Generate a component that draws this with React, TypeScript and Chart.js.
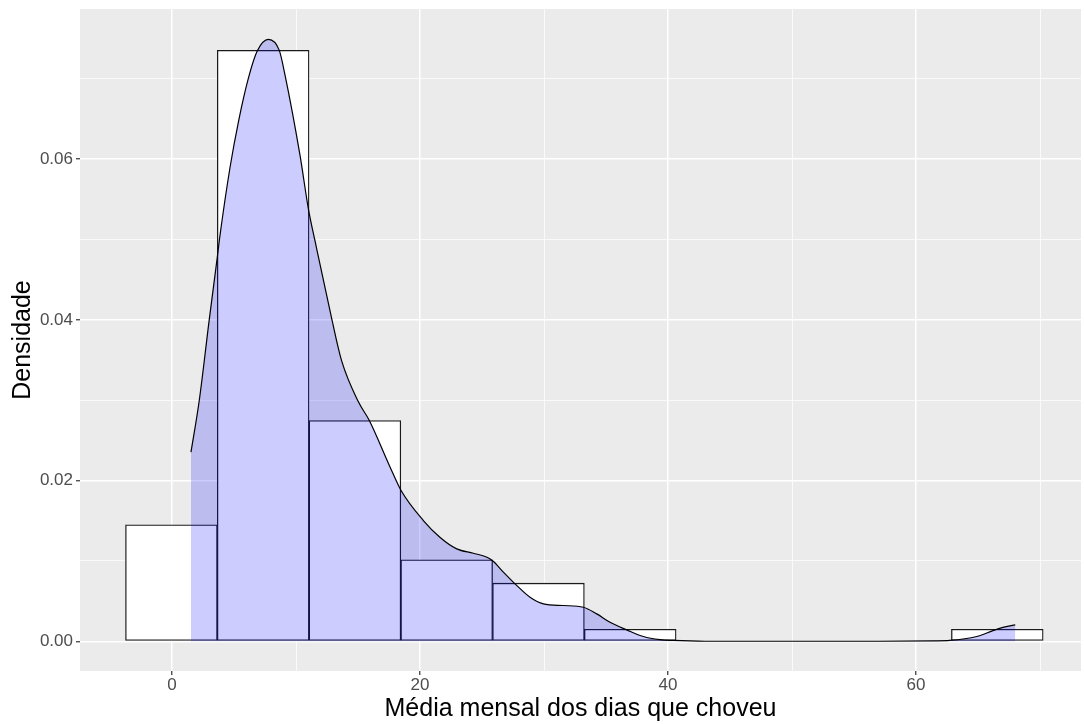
import React, { useEffect, useRef } from "react";
import { Chart, registerables } from "chart.js";

Chart.register(...registerables);

// Histogram (density scale) – bin midpoints and heights
const binMids = [-0.05, 7.35, 14.75, 22.15, 29.55, 36.95, 44.35, 51.75, 59.15, 66.55];
const binDensity = [0.0145, 0.07355, 0.02748, 0.01013, 0.00723, 0.0015, 0, 0, 0, 0.0015];

// Kernel density curve
const densX = [1.53, 2.2, 3.0, 3.65, 3.85, 4.68, 5.4, 6.16, 6.88, 7.77, 8.65, 9.11, 10.32, 11.0, 11.55, 12.9, 13.68, 15.03, 15.91, 17.58, 18.47, 20.27, 21.6, 22.96, 24.3, 25.4, 25.9, 26.72, 27.66, 28.87, 29.95, 31.56, 33.17, 34.25, 35.32, 36.67, 38.01, 39.35, 40.4, 43, 50, 57, 61.4, 62.7, 64.9, 66.2, 67.0, 68.0];
const densY = [0.02354, 0.03, 0.04, 0.0478, 0.0503, 0.059, 0.065, 0.0701, 0.0735, 0.07493, 0.07355, 0.0705, 0.0605, 0.0538, 0.0497, 0.04, 0.0349, 0.0298, 0.02748, 0.0217, 0.01877, 0.01503, 0.01295, 0.0115, 0.01096, 0.01046, 0.00996, 0.0086, 0.00715, 0.00548, 0.00466, 0.00445, 0.00424, 0.00341, 0.00237, 0.00142, 0.00059, 0.0002, 0.0001, 0, 0, 0, 0.00005, 0.0001, 0.00059, 0.00133, 0.00174, 0.00204];

// Axis ticks
const xMajorTicks = [0, 20, 40, 60];
const xMinorTicks = [10, 30, 50, 70];
const yMajorTicks = [0, 0.02, 0.04, 0.06];
const yMinorTicks = [0.01, 0.03, 0.05, 0.07];

const xTitle = "Média mensal dos dias que choveu";
const yTitle = "Densidade";

const FONT = "'Liberation Sans', Arial, Helvetica, sans-serif";

const panelBg = {
  id: "panelBg",
  beforeDraw(chart: any) {
    const { ctx, chartArea } = chart;
    ctx.save();
    ctx.fillStyle = "#EBEBEB";
    ctx.fillRect(chartArea.left, chartArea.top, chartArea.right - chartArea.left, chartArea.bottom - chartArea.top);
    ctx.restore();
  },
};

export default function App() {
  const ref = useRef<HTMLCanvasElement | null>(null);

  useEffect(() => {
    if (!ref.current) return;
    const isXMajor = (v: number) => xMajorTicks.includes(v);
    const isYMajor = (v: number) => yMajorTicks.includes(v);

    const chart = new Chart(ref.current, {
      type: "bar",
      data: {
        datasets: [
          {
            type: "line",
            order: 0,
            data: densX.map((x, i) => ({ x, y: densY[i] })),
            borderColor: "#000000",
            borderWidth: 1.2,
            backgroundColor: "rgba(0,0,255,0.2)",
            fill: "origin",
            pointRadius: 0,
            cubicInterpolationMode: "monotone",
          } as any,
          {
            type: "bar",
            order: 1,
            data: binMids.map((x, i) => ({ x, y: binDensity[i] })),
            backgroundColor: "#FFFFFF",
            borderColor: "#1A1A1A",
            borderWidth: 1.3,
            borderSkipped: false,
            barPercentage: 1,
            categoryPercentage: 1,
            grouped: false,
          } as any,
        ],
      },
      options: {
        responsive: false,
        animation: false,
        devicePixelRatio: 1,
        layout: { padding: { left: 0, top: 9, right: 3, bottom: 0 } },
        plugins: {
          legend: { display: false },
          tooltip: { enabled: false },
        },
        scales: {
          x: {
            type: "linear",
            min: -7.42,
            max: 73.3,
            offset: false,
            afterBuildTicks: (scale: any) => {
              scale.ticks = [...xMajorTicks, ...xMinorTicks].sort((a, b) => a - b).map((v) => ({ value: v }));
            },
            afterFit: (scale: any) => {
              scale.height = 53;
              scale.paddingLeft = 0;
              scale.paddingRight = 0;
            },
            border: { display: false },
            grid: {
              offset: false,
              color: "#FFFFFF",
              lineWidth: (c: any) => (c.tick && isXMajor(c.tick.value) ? 1.5 : 0.75),
              tickColor: (c: any) => (c.tick && isXMajor(c.tick.value) ? "#333333" : "rgba(0,0,0,0)"),
              tickLength: 4,
              tickWidth: 1.2,
              drawTicks: true,
            },
            ticks: {
              autoSkip: false,
              maxRotation: 0,
              padding: 0,
              color: "#4D4D4D",
              font: { size: 17, family: FONT },
              callback: (v: any) => (isXMajor(Number(v)) ? String(v) : ""),
            },
            title: {
              display: true,
              text: xTitle,
              color: "#000000",
              font: { size: 25, family: FONT },
              padding: { top: 0, bottom: 0 },
            },
          },
          y: {
            type: "linear",
            min: -0.0037,
            max: 0.0787,
            afterBuildTicks: (scale: any) => {
              scale.ticks = [...yMajorTicks, ...yMinorTicks].sort((a, b) => a - b).map((v) => ({ value: v }));
            },
            afterFit: (scale: any) => {
              scale.width = 80;
              scale.paddingTop = 0;
              scale.paddingBottom = 0;
            },
            border: { display: false },
            grid: {
              color: "#FFFFFF",
              lineWidth: (c: any) => (c.tick && isYMajor(c.tick.value) ? 1.5 : 0.75),
              tickColor: (c: any) => (c.tick && isYMajor(c.tick.value) ? "#333333" : "rgba(0,0,0,0)"),
              tickLength: 4,
              tickWidth: 1.2,
              drawTicks: true,
            },
            ticks: {
              autoSkip: false,
              padding: 3,
              color: "#4D4D4D",
              font: { size: 17, family: FONT },
              callback: (v: any) => (isYMajor(Number(v)) ? Number(v).toFixed(2) : ""),
            },
            title: {
              display: true,
              text: yTitle,
              color: "#000000",
              font: { size: 25, family: FONT },
              padding: { top: 8.5, bottom: 0 },
            },
          },
        },
      } as any,
      plugins: [panelBg],
    });

    return () => chart.destroy();
  }, []);

  return (
    <div style={{ position: "absolute", left: 0, top: 0, width: 1084, height: 724 }}>
      <canvas ref={ref} width={1084} height={724} style={{ display: "block" }} />
    </div>
  );
}
